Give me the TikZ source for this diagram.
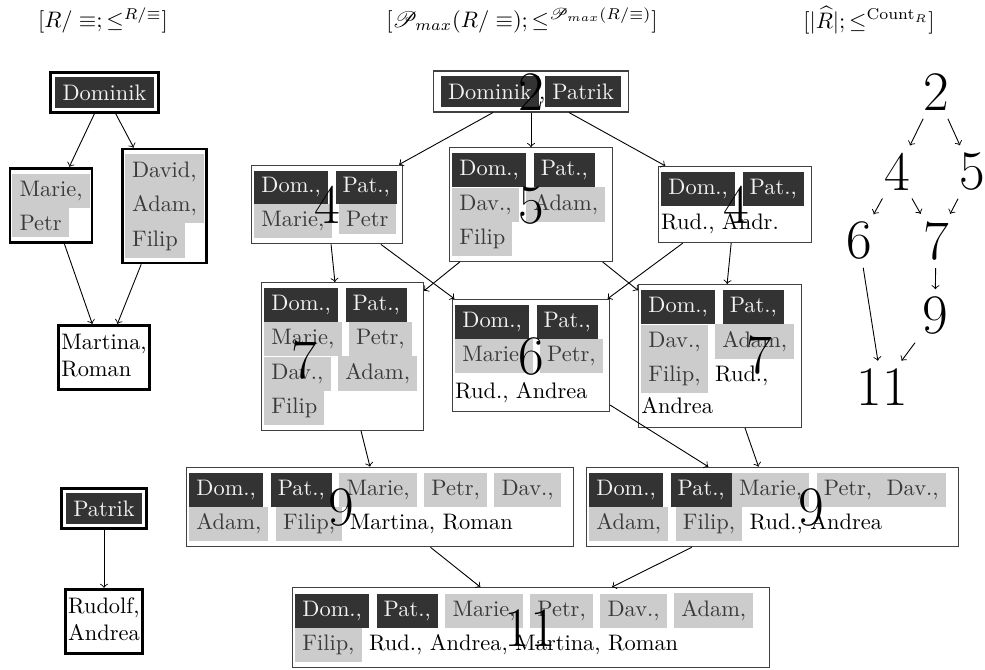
\documentclass[tikz,border=0pt]{standalone}
\usepackage{amsmath,amssymb}
\usepackage{mathrsfs}
\usetikzlibrary{arrows}

\definecolor{darkbox}{HTML}{333333}
\definecolor{darktext}{HTML}{F2F2F2}
\definecolor{lightbox}{HTML}{CCCCCC}
\definecolor{lighttext}{HTML}{3A3A3A}

% word highlights: dark for the generators, light grey for the rest
\newcommand{\dkw}[1]{\colorbox{darkbox}{\textcolor{darktext}{#1}}}
\newcommand{\grw}[1]{\colorbox{lightbox}{\textcolor{lighttext}{#1}}}
\setlength{\fboxsep}{3.2pt}

\begin{document}
\begin{tikzpicture}[x=0.446pt,y=-0.446pt,
  every node/.style={},
  arr/.style={->,>=to,line width=0.4pt},
  lat/.style={draw=black!75,line width=0.5pt,inner xsep=1.2pt,inner ysep=2.4pt,
    align=left,execute at begin node={\setlength{\lineskip}{0pt}}},
  cls/.style={draw=black,line width=1.2pt,inner xsep=1.1pt,inner ysep=2.4pt,
    align=left,execute at begin node={\setlength{\lineskip}{0pt}}},
  gen/.style={cls,inner sep=2.2pt},
  num/.style={font=\Huge,inner sep=3.3pt},
  ttl/.style={inner sep=1pt}]
\useasboundingbox (0,0) rectangle (985,670);

% headings
\node[ttl] (t1) at (103,20) {$[R/\equiv;\leq^{R/\equiv}]$};
\node[ttl] (t2) at (522,20) {$[\mathscr{P}_{max}(R/\equiv);\leq^{\mathscr{P}_{max}(R/\equiv)}]$};
\node[ttl] (t3) at (869,20) {$[|\widehat{R}|;\leq^{\mathrm{Count}_R}]$};

% classes of R/=
\node[gen] (cD) at (104.5,92.5) {\dkw{Dominik}};
\node[cls] (cMP) at (51,205.5) {\grw{Marie,}\\\grw{Petr}};
\node[cls] (cDAF) at (164.5,206) {\grw{David,}\\\grw{Adam,}\\\grw{Filip}};
\node[cls] (cMR) at (104,357.5) {Martina,\strut\\Roman\strut};
\node[gen] (cP) at (104,508.5) {\dkw{Patrik}};
\node[cls] (cRA) at (104,621.5) {Rudolf,\strut\\Andrea\strut};

\draw[arr] (cD) -- (cMP);
\draw[arr] (cD) -- (cDAF);
\draw[arr] (cMP) -- (cMR);
\draw[arr] (cDAF) -- (cMR);
\draw[arr] (cP) -- (cRA);

% maximal down-sets
\node[lat,align=center,text width=84.5pt] (m2) at (531,91.5) {\mbox{\dkw{Dominik},\dkw{Patrik}}};
\node[lat,text width=64.9pt] (m4a) at (327,204.5)
  {\mbox{\dkw{Dom.,} \dkw{Pat.,}}\\\mbox{\grw{Marie,} \grw{Petr}}};
\node[lat,text width=70.2pt] (m5) at (531,204.5)
  {\mbox{\dkw{Dom.,} \dkw{Pat.,}}\\\mbox{\grw{Dav.,} \grw{Adam,}}\\\mbox{\grw{Filip}}};
\node[lat,text width=65.8pt] (m4b) at (735,204.5)
  {\mbox{\dkw{Dom.,} \dkw{Pat.,}}\\[2pt]\mbox{Rud., Andr.\strut}};
\node[lat,text width=69.8pt] (m7a) at (342.5,356.5)
  {\mbox{\dkw{Dom.,} \dkw{Pat.,}}\\\mbox{\grw{Marie,} \grw{Petr,}}\\\mbox{\grw{Dav.,} \grw{Adam,}}\\\mbox{\grw{Filip}}};
\node[lat,text width=67.6pt] (m6) at (531,355.5)
  {\mbox{\dkw{Dom.,} \dkw{Pat.,}}\\\mbox{\grw{Marie,} \grw{Petr,}}\\[3pt]\mbox{Rud., Andrea\strut}};
\node[lat,text width=70.2pt] (m7b) at (720,356)
  {\mbox{\dkw{Dom.,} \dkw{Pat.,}}\\\mbox{\grw{Dav.,} \grw{Adam,}}\\\mbox{\grw{Filip,} Rud.,}\\[1pt]\mbox{Andrea\strut}};
\node[lat,text width=170.1pt] (m9a) at (380,507)
  {\mbox{\dkw{Dom.,} \dkw{Pat.,} \grw{Marie,} \grw{Petr,} \grw{Dav.,}}\\\mbox{\grw{Adam,} \grw{Filip,} Martina, Roman}};
\node[lat,text width=163.5pt] (m9b) at (772.5,507)
  {\mbox{\dkw{Dom.,} \dkw{Pat.,}\grw{Marie,} \grw{Petr,}\grw{Dav.,}}\\\mbox{\grw{Adam,} \grw{Filip,} Rud., Andrea}};
\node[lat,text width=210.3pt] (m11) at (531,627.5)
  {\mbox{\dkw{Dom.,} \dkw{Pat.,} \grw{Marie,} \grw{Petr,} \grw{Dav.,} \grw{Adam,}}\\\mbox{\grw{Filip,} Rud., Andrea, Martina, Roman}};

\draw[arr] (m2) -- (m4a);
\draw[arr] (m2) -- (m5);
\draw[arr] (m2) -- (m4b);
\draw[arr] (m4a) -- (m7a);
\draw[arr] (m4a) -- (m6);
\draw[arr] (m5) -- (m7a);
\draw[arr] (m5) -- (m7b);
\draw[arr] (m4b) -- (m6);
\draw[arr] (m4b) -- (m7b);
\draw[arr] (m7a) -- (m9a);
\draw[arr] (m6) -- (m9b);
\draw[arr] (m7b) -- (m9b);
\draw[arr] (m9a) -- (m11);
\draw[arr] (m9b) -- (m11);

% counts written over the down-sets
\node[num] (l2) at (531,92) {2};
\node[num] (l4a) at (327,205) {4};
\node[num] (l5) at (531,206) {5};
\node[num] (l4b) at (736,205) {4};
\node[num] (l7a) at (304,360) {7};
\node[num] (l6) at (531,357) {6};
\node[num] (l7b) at (759,355) {7};
\node[num] (l9a) at (341,508) {9};
\node[num] (l9b) at (811,508) {9};
\node[num] (l11) at (530,628) {11};

% order of the counts
\node[num] (h2) at (936,92.5) {2};
\node[num] (h4) at (897,172) {4};
\node[num] (h5) at (972,172) {5};
\node[num] (h6) at (859,241) {6};
\node[num] (h7) at (936,241) {7};
\node[num] (h9) at (935,316) {9};
\node[num] (h11) at (882,387) {11};

\draw[arr] (h2) -- (h4);
\draw[arr] (h2) -- (h5);
\draw[arr] (h4) -- (h6);
\draw[arr] (h4) -- (h7);
\draw[arr] (h5) -- (h7);
\draw[arr] (h7) -- (h9);
\draw[arr] (h6) -- (h11);
\draw[arr] (h9) -- (h11);
\end{tikzpicture}
\end{document}
